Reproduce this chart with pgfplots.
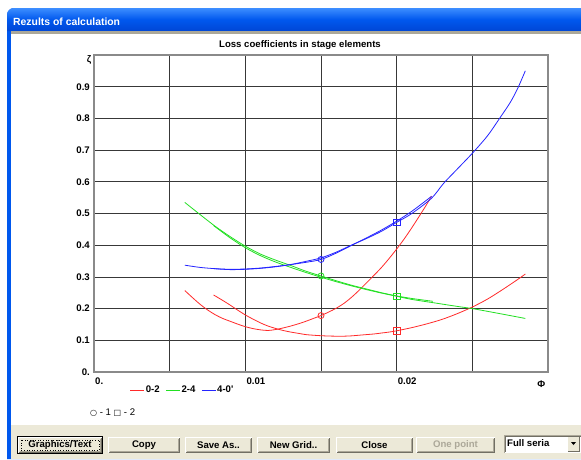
\documentclass[border=0pt]{standalone}
\usepackage{fontspec}
\setmainfont{Liberation Sans}
\newfontfamily\symfont{DejaVu Sans}
\usepackage{pgfplots}
\pgfplotsset{compat=1.18}

\definecolor{xptop}{HTML}{3D8EFF}
\definecolor{xpmid}{HTML}{0058EE}
\definecolor{xpbot}{HTML}{0046D5}
\definecolor{btnface}{HTML}{ECE9D8}
\definecolor{btnshadow}{HTML}{ACA899}
\definecolor{btndark}{HTML}{716F64}
\definecolor{gridline}{HTML}{383838}
\definecolor{framegray}{HTML}{8A8A8A}
\definecolor{lred}{HTML}{FF2A2A}
\definecolor{lgreen}{HTML}{22E022}
\definecolor{lblue}{HTML}{2424FF}

\newcommand{\ui}{\fontsize{9.6}{11}\selectfont}

% push button: left x, right x, caption, caption colour
\newcommand{\btn}[4]{%
  \fill[btnface] (#1,-437) rectangle (#2,-453);
  \draw[white, line width=1pt] (#1+0.5,-452.5) -- (#1+0.5,-437.5) -- (#2-0.5,-437.5);
  \draw[btnshadow, line width=1pt] (#1+1.5,-451.5) -- (#2-1.5,-451.5) -- (#2-1.5,-438.5);
  \draw[btndark, line width=1pt] (#1+0.5,-452.5) -- (#2-0.5,-452.5) -- (#2-0.5,-437.5);
  \node[font=\ui\bfseries, text=#4, inner sep=0pt] at ({(#1+#2)/2},-445) {#3};
}

% loss coefficient series (Phi, zeta)
\pgfplotstableread{
x y
0.0060 0.257
0.0065 0.235
0.0070 0.214
0.0075 0.196
0.0080 0.181
0.0085 0.169
0.0090 0.160
0.0095 0.151
0.0100 0.143
0.0105 0.137
0.0110 0.133
0.0115 0.131
0.0120 0.134
0.0125 0.139
0.0130 0.145
0.0135 0.152
0.0140 0.160
0.0145 0.169
0.0150 0.178
0.0155 0.189
0.0160 0.201
0.0165 0.216
0.0170 0.235
0.0175 0.257
0.0180 0.281
0.0185 0.305
0.0190 0.330
0.0195 0.358
0.0200 0.388
0.0205 0.420
0.0210 0.455
0.0215 0.492
0.0220 0.530
0.0223 0.555
}\redA
\pgfplotstableread{
x y
0.0079 0.243
0.0085 0.226
0.0090 0.211
0.0095 0.195
0.0100 0.180
0.0105 0.167
0.0110 0.155
0.0115 0.145
0.0121 0.136
0.0125 0.131
0.0130 0.126
0.0135 0.122
0.0140 0.118
0.0145 0.116
0.0150 0.1145
0.0155 0.1135
0.0160 0.113
0.0165 0.113
0.0170 0.114
0.0175 0.116
0.0180 0.118
0.0185 0.120
0.0190 0.123
0.0195 0.126
0.0200 0.130
0.0210 0.140
0.0220 0.152
0.0230 0.166
0.0240 0.184
0.0250 0.205
0.0260 0.230
0.0270 0.260
0.0280 0.292
0.0285 0.309
}\redB
\pgfplotstableread{
x y
0.0060 0.535
0.0070 0.497
0.0080 0.460
0.0090 0.427
0.0100 0.397
0.0110 0.372
0.0120 0.353
0.0130 0.336
0.0140 0.318
0.0150 0.303
0.0160 0.288
0.0170 0.274
0.0180 0.262
0.0190 0.250
0.0200 0.240
0.0210 0.232
0.0224 0.223
}\greenA
\pgfplotstableread{
x y
0.0079 0.462
0.0090 0.423
0.0100 0.392
0.0110 0.367
0.0120 0.347
0.0130 0.330
0.0140 0.314
0.0150 0.299
0.0160 0.285
0.0170 0.272
0.0180 0.260
0.0190 0.249
0.0200 0.239
0.0210 0.229
0.0225 0.218
0.0240 0.207
0.0250 0.200
0.0265 0.187
0.0285 0.169
}\greenB
\pgfplotstableread{
x y
0.0060 0.337
0.0070 0.330
0.0080 0.326
0.0090 0.324
0.0100 0.325
0.0110 0.328
0.0120 0.333
0.0130 0.339
0.0140 0.346
0.0150 0.355
0.0160 0.375
0.0170 0.399
0.0180 0.423
0.0190 0.448
0.0200 0.476
0.0210 0.507
0.0223 0.554
}\blueA
\pgfplotstableread{
x y
0.0079 0.326
0.0090 0.323
0.0100 0.324
0.0110 0.327
0.0120 0.332
0.0130 0.339
0.0140 0.349
0.0150 0.360
0.0160 0.378
0.0170 0.400
0.0180 0.421
0.0190 0.444
0.0200 0.472
0.0210 0.500
0.0223 0.548
0.0231 0.595
0.0240 0.640
0.0250 0.690
0.0260 0.745
0.0268 0.800
0.0275 0.850
0.0280 0.895
0.0285 0.950
}\blueB

\begin{document}
\begin{tikzpicture}[x=1pt,y=1pt]
\useasboundingbox (0,0) rectangle (581,-459);
% window frame
\fill[white] (0,0) rectangle (581,-459);
\fill[xpmid] (7,-459) -- (7,-15) arc[start angle=180, end angle=90, radius=7] -- (581,-8) -- (581,-459) -- cycle;
\shade[top color=xptop, bottom color=xpbot, middle color=xpmid]
  (7,-31) -- (7,-15) arc[start angle=180, end angle=90, radius=7] -- (581,-8) -- (581,-31) -- cycle;
\node[font=\fontsize{10.4}{12}\selectfont\bfseries, text=white, anchor=base west, inner sep=0pt] at (13,-25) {Rezults of calculation};
\fill[btnshadow] (11,-31) rectangle (581,-33.5);
\fill[white] (11,-33.5) rectangle (581,-425);
\fill[btnface] (11,-425) rectangle (581,-459);
% buttons
\btn{18}{102}{Graphics/Text}{black}
\draw[black, line width=1pt] (17.5,-436.5) rectangle (102.5,-453.5);
\draw[black, dotted, line width=0.6pt] (21,-440) rectangle (99,-450);
\btn{108}{180}{Copy}{black}
\btn{185}{252}{Save As..}{black}
\btn{257}{330}{New Grid..}{black}
\btn{336}{413}{Close}{black}
\btn{416}{495}{One point}{btnshadow}
% series selector
\fill[white] (504,-435) rectangle (581,-453);
\draw[btnshadow, line width=1pt] (504.5,-452.5) -- (504.5,-435.5) -- (581,-435.5);
\draw[btndark, line width=1pt] (505.5,-451.5) -- (505.5,-436.5) -- (581,-436.5);
\node[font=\ui\bfseries, anchor=west, inner sep=0pt] at (507,-443.5) {Full seria};
\fill[btnface] (568,-437) rectangle (579,-451);
\draw[btndark, line width=0.8pt] (568,-451) -- (579,-451) -- (579,-437);
\fill[black] (571,-442) -- (576,-442) -- (573.5,-445) -- cycle;
% marker key
\node[font=\ui, anchor=west, inner sep=0pt] at (90,-413)
  {{\symfont\fontsize{8}{9}\selectfont ○} - 1 {\symfont\fontsize{8}{9}\selectfont □} - 2};

\begin{axis}[
  at={(94pt,-372pt)}, anchor=south west,
  scale only axis, width=454pt, height=317pt,
  xmin=0, xmax=0.03, ymin=0, ymax=1,
  scaled x ticks=false, scaled y ticks=false,
  xtick={0,0.005,0.01,0.015,0.02,0.025},
  xticklabels={0.,,0.01,,0.02,},
  ytick={0,0.1,0.2,0.3,0.4,0.5,0.6,0.7,0.8,0.9},
  yticklabels={0.,0.1,0.2,0.3,0.4,0.5,0.6,0.7,0.8,0.9},
  grid=major,
  major grid style={gridline, line width=0.8pt},
  axis line style={framegray, line width=1.4pt},
  major tick length=0pt,
  tick label style={font=\ui\bfseries},
  xticklabel style={anchor=north west, inner sep=0pt, yshift=-5.5pt, xshift=1pt},
  yticklabel style={anchor=east, inner sep=0pt, xshift=-4pt},
  title={Loss coefficients in stage elements},
  every axis title shift=0pt,
  title style={at={(axis description cs:0.4537,1.0315)}, anchor=center, font=\ui\bfseries, inner sep=0pt},
  xlabel={Φ}, ylabel={ζ},
  every axis x label/.style={at={(axis description cs:0.985,-0.038)}, anchor=center, font=\ui\bfseries},
  every axis y label/.style={at={(axis description cs:-0.011,0.985)}, anchor=center, font=\ui\bfseries},
  legend style={draw=none, fill=none, at={(axis description cs:0.079,-0.057)}, anchor=west,
    inner sep=0pt, font=\ui\bfseries, nodes={inner sep=1pt},
    /tikz/every even column/.append style={column sep=5pt}},
  legend columns=-1,
  legend image code/.code={\draw[#1] (0pt,0pt) -- (14pt,0pt);},
  every axis plot/.append style={line width=0.8pt},
]
\addlegendimage{lred}\addlegendentry{0-2}
\addlegendimage{lgreen}\addlegendentry{2-4}
\addlegendimage{lblue}\addlegendentry{4-0\textquotesingle}

\addplot[lred, smooth, forget plot] table {\redA};
\addplot[lred, smooth, forget plot] table {\redB};
\addplot[lgreen, smooth, forget plot] table {\greenA};
\addplot[lgreen, smooth, forget plot] table {\greenB};
\addplot[lblue, smooth, forget plot] table {\blueA};
\addplot[lblue, smooth, forget plot] table {\blueB};

% regime points: circle = 1, square = 2
\addplot[lred, only marks, mark=o, mark size=3pt, forget plot] coordinates {(0.015,0.178)};
\addplot[lred, only marks, mark=square, mark size=3.3pt, forget plot] coordinates {(0.02,0.130)};
\addplot[lgreen, only marks, mark=o, mark size=3pt, forget plot] coordinates {(0.015,0.303)};
\addplot[lgreen, only marks, mark=square, mark size=3.3pt, forget plot] coordinates {(0.02,0.239)};
\addplot[lblue, only marks, mark=o, mark size=3pt, forget plot] coordinates {(0.015,0.355)};
\addplot[lblue, only marks, mark=square, mark size=3.3pt, forget plot] coordinates {(0.02,0.472)};
\end{axis}
\end{tikzpicture}
\end{document}
